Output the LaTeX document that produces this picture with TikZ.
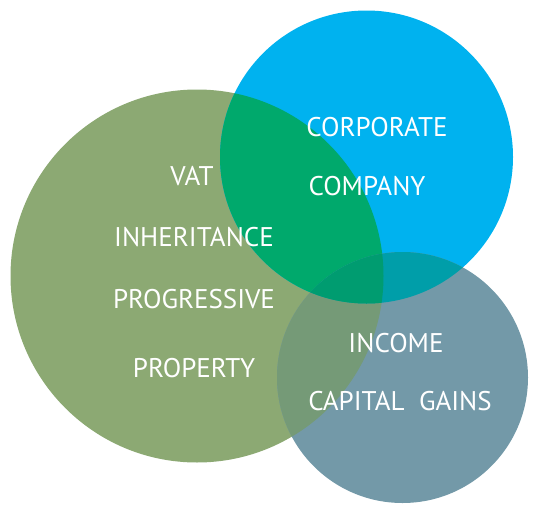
\documentclass[tikz,border=0pt]{standalone}
\usepackage{fontspec}
\setmainfont{PT Sans}

\definecolor{taxgreen}{HTML}{8CA973}
\definecolor{taxblue}{HTML}{00B2EF}
\definecolor{taxgray}{HTML}{7399A8}
\definecolor{greenblue}{HTML}{00A96C}
\definecolor{greengray}{HTML}{759A77}
\definecolor{bluegray}{HTML}{009EA9}
\definecolor{allthree}{HTML}{009C70}

\tikzset{
	label/.style={text=white, font=\fontsize{27}{31}\selectfont, inner sep=0pt}
}

\begin{document}
\begin{tikzpicture}[x=1pt, y=-1pt]
		
		\useasboundingbox (0,0) rectangle (538,514);
		
		\coordinate (G) at (197,276);
		\coordinate (B) at (366.5,157);
		\coordinate (P) at (402.5,377.5);
		
		% Main circles
		\fill[taxgreen] (G) circle (186.5);
		\fill[taxblue] (B) circle (146.5);
		\fill[taxgray] (P) circle (125.5);
		
		% Overlaps
		\begin{scope}
			\clip (G) circle (186.5);
			\fill[greenblue] (B) circle (146.5);
			\fill[greengray] (P) circle (125.5);
		\end{scope}
		\begin{scope}
			\clip (B) circle (146.5);
			\fill[bluegray] (P) circle (125.5);
			\clip (P) circle (125.5);
			\fill[allthree] (G) circle (186.5);
		\end{scope}
		
		% Labels
		\node[label] (vat) at (192,176) {VAT};
		\node[label] (inh) at (194,237) {INHERITANCE};
		\node[label] (prog) at (194,299) {PROGRESSIVE};
		\node[label] (prop) at (194,368) {PROPERTY};
		
		\node[label] (corp) at (377,127) {CORPORATE};
		\node[label] (comp) at (367,186) {COMPANY};
		
		\node[label] (inc) at (396,343) {INCOME};
		\node[label] (cap) at (400,401) {CAPITAL~~GAINS};
		
	\end{tikzpicture}
\end{document}
